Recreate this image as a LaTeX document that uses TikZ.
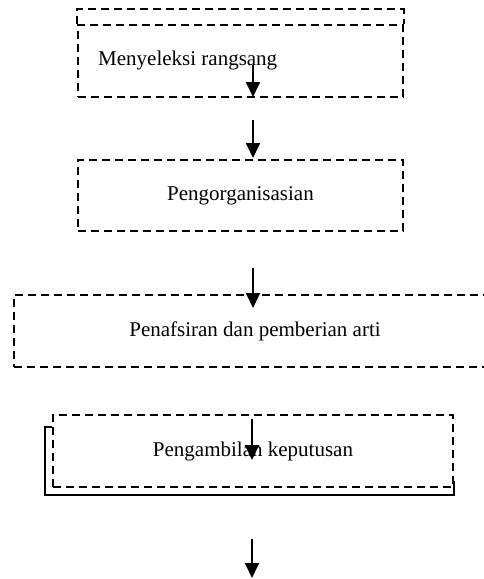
\documentclass[tikz,border=0pt]{standalone}
\usepackage{fontspec}
\setmainfont{Liberation Serif}
\usepackage{tikz}
\usetikzlibrary{arrows.meta,positioning}

\begin{document}
\begin{tikzpicture}[x=1pt, y=-1pt,
  stepbox/.style={draw, line width=1.6pt, dash pattern=on 8pt off 5pt,
    inner sep=0pt, font=\fontsize{21}{25}\selectfont},
  steptext/.style={inner sep=0pt, font=\fontsize{21}{25}\selectfont},
  flow/.style={-{Triangle[length=15pt, width=14pt]}, line width=1.8pt},
  shadow/.style={line width=2.4pt},
]
  \useasboundingbox (0,0) rectangle (484,579);

  % boxes
  \node[stepbox, minimum width=325pt, minimum height=72pt] (sel) at (240.5,61) {};
  \node[steptext, anchor=west] (seltxt) at (98,60) {Menyeleksi rangsang};
  \draw[line width=1.6pt, dash pattern=on 8pt off 5pt]
    (sel.north west) -- ++(0,-15) -| (sel.north east);

  \node[stepbox, minimum width=325pt, minimum height=71pt] (org) at (240.5,195.5) {Pengorganisasian};
  \node[stepbox, minimum width=482pt, minimum height=72pt] (taf) at (255,331) {Penafsiran dan pemberian arti};
  \node[stepbox, minimum width=400pt, minimum height=72pt] (amb) at (253,451) {Pengambilan keputusan};
  \draw[shadow] ([yshift=-13pt]amb.north west) -- ++(-7,0) |- ([yshift=-7pt]amb.south east) -- ++(0,-14);

  % arrows
  \coordinate (a1) at (253,65);  \coordinate (b1) at (253,97);
  \coordinate (a2) at (253,120); \coordinate (b2) at (253,158);
  \coordinate (a3) at (253,268); \coordinate (b3) at (253,308);
  \coordinate (a4) at (252,419); \coordinate (b4) at (252,460);
  \coordinate (a5) at (252,539); \coordinate (b5) at (252,578);
  \foreach \i in {1,...,5}
    \draw[flow] (a\i) -- (b\i);
\end{tikzpicture}
\end{document}
